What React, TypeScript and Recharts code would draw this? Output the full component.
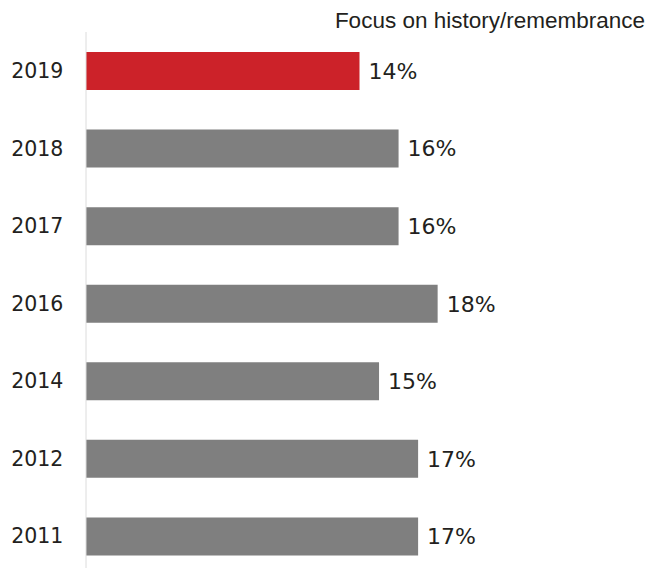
import React from "react";
import { BarChart, Bar, XAxis, YAxis, LabelList, Cell } from "recharts";

const years = ["2019", "2018", "2017", "2016", "2014", "2012", "2011"];
const values = [14, 16, 16, 18, 15, 17, 17];
const highlightYear = "2019";
const title = "Focus on history/remembrance";

const data = years.map((y, i) => ({ year: y, value: values[i] }));

const RED = "#cc2229";
const GRAY = "#7f7f7f";
const TEXT = "#231f20";

export default function App() {
  return (
    <div style={{ position: "absolute", left: 0, top: 0, width: 649, height: 568, overflow: "hidden", background: "#fff" }}>
      <svg width={649} height={40} style={{ position: "absolute", left: 0, top: 0 }}>
        <text x={645} y={28.3} textAnchor="end" fontFamily="'Liberation Sans', Arial, sans-serif" fontSize={22.5} fill={TEXT}>
          {title}
        </text>
      </svg>
      <div style={{ position: "absolute", left: 0, top: 0 }}>
        <BarChart
          width={649}
          height={580}
          data={data}
          layout="vertical"
          margin={{ top: 32, right: 16, bottom: 5, left: 0 }}
          barSize={38}
        >
          <XAxis type="number" domain={[0, 28]} hide />
          <YAxis
            type="category"
            dataKey="year"
            width={86}
            axisLine={{ stroke: "#dcdcdc", strokeWidth: 1 }}
            tickLine={false}
            tickSize={0}
            tickMargin={22.7}
            tick={{ fontFamily: "'DejaVu Sans', sans-serif", fontSize: 20.5, fill: TEXT }}
          />
          <Bar dataKey="value" isAnimationActive={false}>
            {data.map((d) => (
              <Cell key={d.year} fill={d.year === highlightYear ? RED : GRAY} />
            ))}
            <LabelList
              dataKey="value"
              position="right"
              offset={9}
              formatter={(v: number) => `${v}%`}
              style={{ fontFamily: "'DejaVu Sans', sans-serif", fontSize: 22, fill: TEXT }}
            />
          </Bar>
        </BarChart>
      </div>
    </div>
  );
}
